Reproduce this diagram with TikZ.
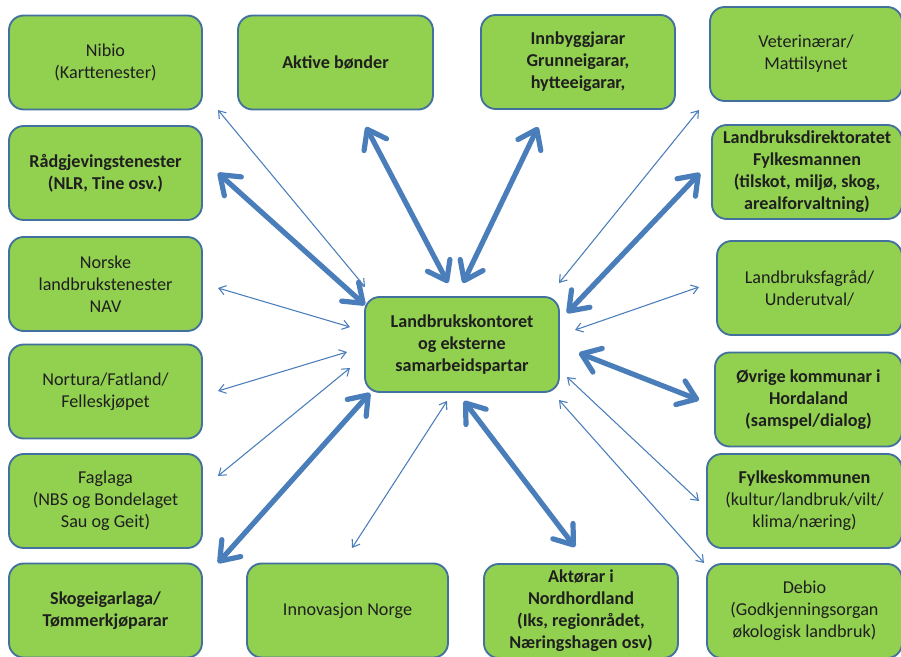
\documentclass[tikz,border=0pt]{standalone}
\usepackage{fontspec}
\setmainfont{Carlito}
\usetikzlibrary{arrows.meta}
\definecolor{boksgronn}{HTML}{92D050}
\definecolor{kantblaa}{HTML}{41719C}
\definecolor{pilblaa}{HTML}{4A7EBB}

\begin{document}
\begin{tikzpicture}[x=0.75pt,y=-0.75pt,
  boks/.style={draw=kantblaa,line width=1.4pt,fill=boksgronn,rounded corners=11pt,
    minimum height=70.5pt,align=center,inner sep=2pt,text=black!88,
    font=\fontsize{13.6}{16.5}\selectfont},
  feit/.style={boks,font=\fontsize{13.6}{16.5}\selectfont\bfseries},
  tjukk/.style={pilblaa,line width=3.9pt,>={Straight Barb[length=13pt,width=19pt,round]},<->},
  tynn/.style={pilblaa,line width=0.8pt,>={Straight Barb[length=5pt,width=7pt]},<->}]
\useasboundingbox (0,0) rectangle (901,657);

% venstre kolonne
\node[boks,minimum width=144.75pt] (nibio) at (105.5,62.5) {Nibio\\(Karttenester)};
\node[feit,minimum width=144.75pt] (raad) at (105.5,173) {Rådgjevingstenester\\(NLR, Tine osv.)};
\node[boks,minimum width=144.75pt] (norske) at (105.5,284) {Norske\\landbrukstenester\\NAV};
\node[boks,minimum width=144.75pt] (nortura) at (105.5,391.5) {Nortura/Fatland/\\Felleskjøpet};
\node[boks,minimum width=144.75pt] (faglaga) at (105.5,501) {Faglaga\\(NBS og Bondelaget\\Sau og Geit)};
\node[feit,minimum width=144.75pt] (skog) at (105.5,610.5) {Skogeigarlaga/\\Tømmerkjøparar};

% midten, topp og botn
\node[feit,minimum width=146.25pt] (aktive) at (335.5,62.5) {Aktive bønder};
\node[feit,minimum width=145.5pt] (innb) at (578,62) {Innbyggjarar\\Grunneigarar,\\hytteeigarar,};
\node[feit,minimum width=145.5pt,minimum height=71.25pt] (kontor) at (462,344.5) {Landbrukskontoret\\og eksterne\\samarbeidspartar};
\node[boks,minimum width=150.75pt] (innov) at (347.5,610.5) {Innovasjon Norge};
\node[feit,minimum width=145.5pt] (aktorar) at (581,611) {Aktørar i\\Nordhordland\\(Iks, regionrådet,\\Næringshagen osv)};

% høgre kolonne
\node[boks,minimum width=144pt] (vet) at (806,54) {Veterinærar/\\Mattilsynet};
\node[feit,minimum width=142.5pt] (ldir) at (807,172) {Landbruksdirektoratet\\Fylkesmannen\\(tilskot, miljø, skog,\\arealforvaltning)};
\node[boks,minimum width=138.75pt] (lfag) at (809.5,288) {Landbruksfagråd/\\Underutval/};
\node[feit,minimum width=140.25pt] (ovrige) at (808.5,399.5) {Øvrige kommunar i\\Hordaland\\(samspel/dialog)};
\node[boks,minimum width=146.25pt] (fylke) at (804.5,501) {{\bfseries Fylkeskommunen}\\(kultur/landbruk/vilt/\\klima/næring)};
\node[boks,minimum width=146.25pt] (debio) at (804.5,611) {Debio\\(Godkjenningsorgan\\økologisk landbruk)};

% endepunkt for pilene
\coordinate (p-raad) at (218,173);    \coordinate (k-raad) at (365,305);
\coordinate (p-aktive) at (366,127);  \coordinate (k-aktive) at (448,283);
\coordinate (p-innb) at (538,127);    \coordinate (k-innb) at (463,283);
\coordinate (p-ldir) at (700,173);    \coordinate (k-ldir) at (567,313);
\coordinate (p-ovrige) at (699,400);  \coordinate (k-ovrige) at (579,353);
\coordinate (p-aktorar) at (575,547); \coordinate (k-aktorar) at (464,401);
\coordinate (p-skog) at (218,563);    \coordinate (k-skog) at (370,393);
\coordinate (p-nibio) at (218,110);   \coordinate (k-nibio) at (365,287);
\coordinate (p-norske) at (218,288);  \coordinate (k-norske) at (350,327);
\coordinate (p-nortura) at (218,391); \coordinate (k-nortura) at (347,352);
\coordinate (p-faglaga) at (218,476); \coordinate (k-faglaga) at (350,368);
\coordinate (p-innov) at (352,548);   \coordinate (k-innov) at (447,401);
\coordinate (p-vet) at (699,110);     \coordinate (k-vet) at (559,283);
\coordinate (p-lfag) at (699,287);    \coordinate (k-lfag) at (575,330);
\coordinate (p-fylke) at (699,501);   \coordinate (k-fylke) at (567,377);
\coordinate (p-debio) at (704,563);   \coordinate (k-debio) at (559,400);

% tjukke piler
\draw[tjukk] (p-raad) -- (k-raad);
\draw[tjukk] (p-aktive) -- (k-aktive);
\draw[tjukk] (p-innb) -- (k-innb);
\draw[tjukk] (p-ldir) -- (k-ldir);
\draw[tjukk] (p-ovrige) -- (k-ovrige);
\draw[tjukk] (p-aktorar) -- (k-aktorar);
\draw[tjukk] (p-skog) -- (k-skog);

% tynne piler
\draw[tynn] (p-nibio) -- (k-nibio);
\draw[tynn] (p-norske) -- (k-norske);
\draw[tynn] (p-nortura) -- (k-nortura);
\draw[tynn] (p-faglaga) -- (k-faglaga);
\draw[tynn] (p-innov) -- (k-innov);
\draw[tynn] (p-vet) -- (k-vet);
\draw[tynn] (p-lfag) -- (k-lfag);
\draw[tynn] (p-fylke) -- (k-fylke);
\draw[tynn] (p-debio) -- (k-debio);
\end{tikzpicture}
\end{document}
